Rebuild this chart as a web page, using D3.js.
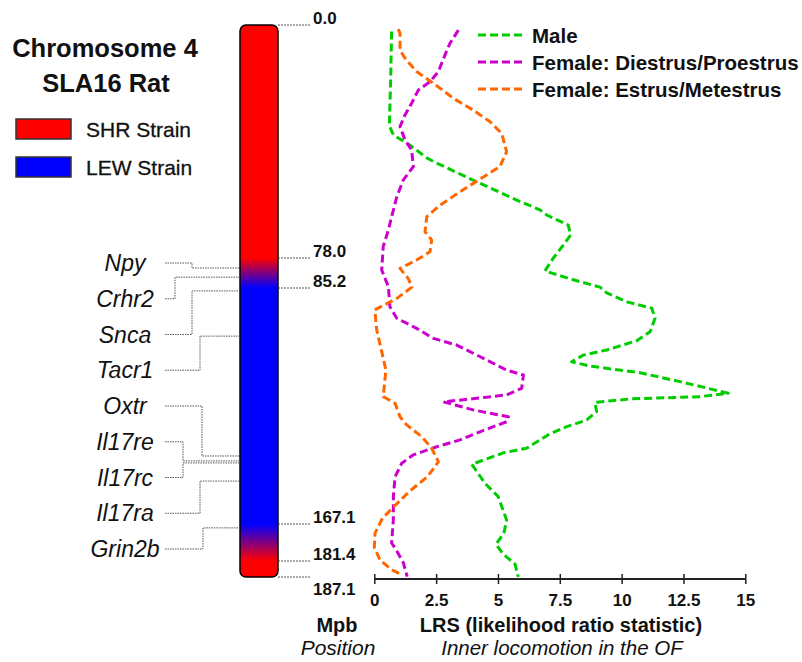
<!DOCTYPE html>
<html>
<head>
<meta charset="utf-8">
<script src="https://cdn.jsdelivr.net/npm/d3@7"></script>
<style>
  body { margin: 0; background: #fff; }
  text { font-family: "Liberation Sans", Arial, sans-serif; fill: #111; }
</style>
</head>
<body>
<div id="chart"></div>
<script>
// chromosome markers (Mb) and strain colours
const markerMb = [0.0, 78.0, 85.2, 167.1, 181.4, 187.1];
const strains = ["SHR Strain", "LEW Strain"];
const strainColors = ["#ff0000", "#0000ff"];

// genes and where they sit on the chromosome (Mb)
const genes = ["Npy", "Crhr2", "Snca", "Tacr1", "Oxtr", "Il17re", "Il17rc", "Il17ra", "Grin2b"];
const geneMb = [80.4, 82.6, 86.2, 101.9, 143.5, 145.2, 145.9, 152.2, 168.6];

// LRS ticks
const lrsTicks = [0, 2.5, 5, 7.5, 10, 12.5, 15];

// series: [position Mb, LRS]
const seriesNames = ["Male", "Female: Diestrus/Proestrus", "Female: Estrus/Metestrus"];
const seriesColors = ["#00cc00", "#cc00cc", "#ff6600"];

const male = [[2.2,0.70],[18.4,0.66],[33.8,0.61],[36.8,0.77],[40.2,1.44],[44.5,2.12],[46.2,2.52],[52.5,4.14],
  [58.6,5.76],[61.9,6.70],[63.6,6.97],[67.0,7.84],[70.3,7.94],[73.7,7.64],[78.0,7.24],[81.1,6.90],[83.0,7.91],
  [85.0,9.13],[86.9,9.40],[90.0,10.21],[92.2,11.22],[95.7,11.35],[100.4,11.15],[103.5,10.61],[106.7,9.40],
  [108.5,8.45],[110.8,7.98],[112.3,8.72],[114.6,10.74],[117.7,12.36],[121.7,14.31],[122.9,13.17],[123.7,10.34],
  [124.9,8.92],[128.1,8.99],[131.0,8.59],[133.3,7.78],[136.2,7.02],[140.8,6.16],[142.4,5.22],[146.4,3.94],
  [153.0,4.48],[157.6,5.01],[165.7,5.35],[170.6,5.24],[175.0,4.92],[178.8,5.22],[182.5,5.69],[187.1,5.82]];

const femaleDP = [[1.7,3.40],[6.1,3.06],[10.0,2.86],[15.6,2.59],[19.0,2.25],[21.8,1.78],[26.2,1.51],[30.1,1.24],
  [34.0,1.04],[38.5,1.24],[41.9,1.51],[47.4,1.58],[51.9,1.17],[57.5,0.91],[64.2,0.70],[68.6,0.57],[74.2,0.36],
  [80.9,0.30],[84.9,0.57],[91.7,0.63],[95.7,0.91],[99.2,1.71],[102.7,2.39],[105.0,3.33],[109.6,4.41],[113.7,5.35],
  [115.4,6.03],[120.0,5.96],[122.3,5.35],[123.5,4.14],[124.7,2.79],[127.5,4.00],[129.9,5.42],[131.6,5.35],
  [135.1,4.27],[137.9,3.47],[140.3,2.52],[143.1,1.58],[146.0,1.11],[150.7,0.84],[157.6,0.77],[165.7,0.77],
  [174.4,0.70],[177.5,0.91],[181.9,1.17],[187.0,1.33]];

const femaleEM = [[1.4,0.97],[2.8,1.04],[8.4,1.04],[11.1,1.24],[15.6,1.71],[19.5,2.39],[24.5,3.19],[28.5,4.00],
  [32.4,4.68],[36.3,5.15],[42.4,5.35],[47.4,5.08],[50.9,4.41],[55.8,3.47],[60.3,2.66],[64.2,2.12],[69.2,2.05],
  [72.0,2.32],[75.9,2.25],[78.5,1.71],[80.5,1.04],[82.9,1.37],[85.0,1.52],[88.8,0.91],[92.8,0.02],[99.8,0.10],
  [107.3,0.30],[113.7,0.47],[122.9,0.36],[125.2,0.84],[129.9,1.04],[132.7,1.31],[136.8,1.92],[140.8,2.32],
  [145.5,2.59],[150.7,2.15],[155.6,1.44],[160.7,0.84],[165.1,0.33],[170.6,0.03],[176.2,0.0],[181.0,0.23],
  [184.4,0.68],[186.3,1.11]];

const allSeries = [male, femaleDP, femaleEM];

const width = 802, height = 662;
const svg = d3.select("#chart").append("svg")
    .attr("width", width)
    .attr("height", height);

// the drawing of the chromosome is not linear between markers, so piecewise scale
let y = d3.scaleLinear()
    .domain(markerMb)
    .range([25, 258, 288, 524, 561, 577]);

let x = d3.scaleLinear()
    .domain([0, 15])
    .range([374.3, 745.3]);

// ---- titles ----
svg.append("text").attr("x", 105).attr("y", 57)
    .attr("text-anchor", "middle").style("font-weight", "bold").style("font-size", "25.5px")
    .text("Chromosome 4");
svg.append("text").attr("x", 106).attr("y", 92)
    .attr("text-anchor", "middle").style("font-weight", "bold").style("font-size", "25.5px")
    .text("SLA16 Rat");

// strain legend
strains.forEach((s, i) => {
    svg.append("rect")
        .attr("x", 16).attr("y", 119 + i * 38)
        .attr("width", 55).attr("height", 20)
        .attr("fill", strainColors[i])
        .attr("stroke", "#333").attr("stroke-width", 1.5);
    svg.append("text")
        .attr("x", 86).attr("y", 137 + i * 38)
        .style("font-size", "21px")
        .attr("stroke", "#111").attr("stroke-width", 0.3)
        .text(s);
});

// ---- chromosome ----
let defs = svg.append("defs");
let grad = defs.append("linearGradient")
    .attr("id", "chromGrad")
    .attr("gradientUnits", "userSpaceOnUse")
    .attr("x1", 0).attr("x2", 0)
    .attr("y1", y(markerMb[0])).attr("y2", y(markerMb[markerMb.length - 1]));

let span = y(markerMb[markerMb.length - 1]) - y(markerMb[0]);
let stopColors = [strainColors[0], strainColors[0], strainColors[1], strainColors[1], strainColors[0], strainColors[0]];
markerMb.forEach((m, i) => {
    grad.append("stop")
        .attr("offset", (y(m) - y(markerMb[0])) / span)
        .attr("stop-color", stopColors[i]);
});

let barX = 240, barW = 38;
svg.append("rect")
    .attr("x", barX).attr("y", y(markerMb[0]))
    .attr("width", barW).attr("height", span)
    .attr("rx", 6).attr("ry", 6)
    .attr("fill", "url(#chromGrad)")
    .attr("stroke", "#000").attr("stroke-width", 1.5);

// marker lines + labels
let markers = svg.selectAll("g.marker").data(markerMb).enter().append("g").attr("class", "marker");
markers.append("line")
    .attr("x1", barX + barW).attr("x2", 311)
    .attr("y1", d => y(d)).attr("y2", d => y(d))
    .attr("stroke", "#555").attr("stroke-width", 1)
    .attr("stroke-dasharray", "2,1");
markers.append("text")
    .attr("x", 313)
    .attr("y", (d, i) => i == markerMb.length - 1 ? y(d) + 18 : y(d) - 1)
    .style("font-weight", "bold").style("font-size", "17px")
    .text(d => d.toFixed(1));

// gene labels + connectors
let elbowX = [192, 175, 192, 200, 202, 183, 183, 200, 203];
genes.forEach((g, i) => {
    let ly = 263 + i * 35.75;
    svg.append("text")
        .attr("x", 125).attr("y", ly).attr("dy", "0.35em")
        .attr("text-anchor", "middle")
        .style("font-style", "italic").style("font-size", "23px")
        .text(g);
    svg.append("path")
        .attr("d", "M165," + ly + "H" + elbowX[i] + "V" + y(geneMb[i]) + "H" + barX)
        .attr("fill", "none")
        .attr("stroke", "#555").attr("stroke-width", 1)
        .attr("stroke-dasharray", "1.5,1");
});

svg.append("text").attr("x", 337).attr("y", 632)
    .attr("text-anchor", "middle").style("font-weight", "bold").style("font-size", "20px")
    .text("Mpb");
svg.append("text").attr("x", 338).attr("y", 655)
    .attr("text-anchor", "middle").style("font-style", "italic").style("font-size", "21px")
    .text("Position");

// ---- LRS axis ----
let axisY = 579;
let axisx = d3.axisBottom(x).tickValues(lrsTicks).tickSize(10).tickPadding(14).tickFormat(d3.format(""));
let xAxis = svg.append("g").attr("class", "xAxis")
    .attr("transform", "translate(0," + axisY + ")")
    .call(axisx);
xAxis.select(".domain").attr("stroke", "#222").attr("stroke-width", 2).attr("d", "M" + x(0) + ",0H" + x(15));
xAxis.selectAll(".tick line").attr("y1", -5).attr("y2", 5).attr("stroke", "#222").attr("stroke-width", 1.5);
xAxis.selectAll(".tick text")
    .attr("y", 27).attr("dy", 0)
    .style("font-family", "'Liberation Sans', Arial, sans-serif")
    .style("font-weight", "bold").style("font-size", "17px").attr("fill", "#111");

svg.append("text").attr("x", 561).attr("y", 632)
    .attr("text-anchor", "middle").style("font-weight", "bold").style("font-size", "20px")
    .text("LRS (likelihood ratio statistic)");
svg.append("text").attr("x", 562).attr("y", 655)
    .attr("text-anchor", "middle").style("font-style", "italic").style("font-size", "20.5px")
    .text("Inner locomotion in the OF");

// ---- curves ----
let lineGen = d3.line()
    .x(d => x(d[1]))
    .y(d => y(d[0]));

svg.selectAll("path.lrs").data(allSeries).enter().append("path")
    .attr("class", "lrs")
    .attr("d", d => lineGen(d))
    .attr("fill", "none")
    .attr("stroke", (d, i) => seriesColors[i])
    .attr("stroke-width", 3)
    .attr("stroke-linejoin", "round")
    .attr("stroke-dasharray", "8,4");

// legend
seriesNames.forEach((s, i) => {
    let ly = 35 + i * 27;
    svg.append("line")
        .attr("x1", 478).attr("x2", 522)
        .attr("y1", ly).attr("y2", ly)
        .attr("stroke", seriesColors[i]).attr("stroke-width", 3)
        .attr("stroke-dasharray", "8,4");
    svg.append("text")
        .attr("x", 532).attr("y", ly + 7.5)
        .style("font-weight", "bold").style("font-size", "20.5px")
        .text(s);
});
</script>
</body>
</html>
